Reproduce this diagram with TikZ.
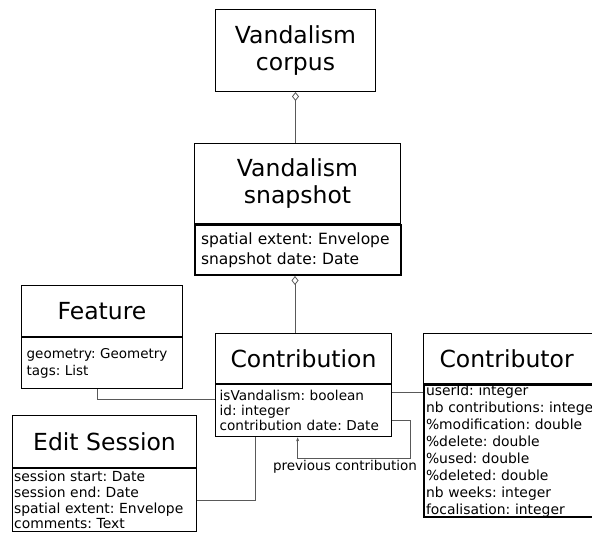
\documentclass[tikz,border=0pt]{standalone}
\usepackage{fontspec}
\setmainfont{DejaVu Sans}
\usetikzlibrary{arrows.meta, positioning, calc}
\frenchspacing

\begin{document}
\begin{tikzpicture}[
        x=1pt, y=-1pt,
        title/.style={rectangle, draw, line width=1pt, anchor=north west, inner sep=0pt, align=center, font=\fontsize{23.5}{27}\selectfont},
        attr/.style={rectangle, draw, line width=1.3pt, anchor=north west, inner ysep=0pt, inner xsep=4pt, align=left, font=\fontsize{13.8}{17}\selectfont},
        assoc/.style={draw=black!65, line width=0.8pt},
        agg/.style={assoc, {Diamond[open, length=9pt, width=7pt, line width=0.8pt]}-}
    ]
        \useasboundingbox (0,0) rectangle (592,534);
        \clip (0,0) rectangle (592,534);

        % Corpus and snapshot
        \node[title, minimum width=160pt, minimum height=82pt] (corpus) at (215,9) {Vandalism\\corpus};
        \node[title, minimum width=206pt, minimum height=80pt] (snap) at (194,143) {Vandalism\\snapshot};
        \node[attr, line width=2pt, text width=194pt, inner xsep=6pt, minimum height=50pt, font=\fontsize{15.5}{20}\selectfont] (snapattr) at (snap.south west) {spatial extent: Envelope\\snapshot date: Date};

        % Feature
        \node[title, minimum width=161pt, minimum height=51pt] (feat) at (21,285) {Feature};
        \node[attr, text width=151pt, inner xsep=5pt, minimum height=51pt, font=\fontsize{13.5}{17}\selectfont] (featattr) at (feat.south west) {geometry: Geometry\\tags: List};

        % Contribution
        \node[title, minimum width=176pt, minimum height=50pt] (contr) at (215,333) {Contribution};
        \node[attr, text width=168pt, minimum height=52pt, font=\fontsize{13.6}{15}\selectfont] (contrattr) at (contr.south west) {isVandalism: boolean\\id: integer\\contribution date: Date};

        % Contributor
        \node[title, align=left, text width=148pt, inner xsep=16pt, minimum height=50pt] (ctor) at (423,333) {Contributor};
        \node[attr, line width=2pt, text width=176pt, inner xsep=2pt, minimum height=130pt, font=\fontsize{13.9}{17}\selectfont] (ctorattr) at (ctor.south west) {userId: integer\\nb contributions: integer\\\%modification: double\\\%delete: double\\\%used: double\\\%deleted: double\\nb weeks: integer\\focalisation: integer};

        % Edit session
        \node[title, minimum width=184pt, minimum height=52pt] (sess) at (12,415) {Edit Session};
        \node[attr, text width=181pt, inner xsep=1.5pt, minimum height=63pt, font=\fontsize{13.9}{15.7}\selectfont] (sessattr) at (sess.south west) {session start: Date\\session end: Date\\spatial extent: Envelope\\comments: Text};

        % Links
        \draw[agg] (corpus.south) -- (corpus.south |- snap.north);
        \draw[agg] ([xshift=-3pt]snapattr.south) -- ([xshift=-3pt]snapattr.south |- contr.north);
        \draw[assoc] ([xshift=-5pt]featattr.south) |- ([yshift=11pt]contrattr.west);
        \draw[assoc] (sessattr.east) -| ([xshift=-48pt]contrattr.south);
        \draw[assoc] ([yshift=18pt]contrattr.east) -- ([yshift=18pt]contrattr.east -| ctorattr.west);
        \draw[assoc, -{Stealth[length=4pt, width=3pt]}] ([yshift=-10pt]contrattr.east) -| ++(18,38) -| ([xshift=-6pt]contrattr.south);
        \node[font=\fontsize{13.5}{16}\selectfont] (prev) at (345,467) {previous contribution};
    \end{tikzpicture}
\end{document}
